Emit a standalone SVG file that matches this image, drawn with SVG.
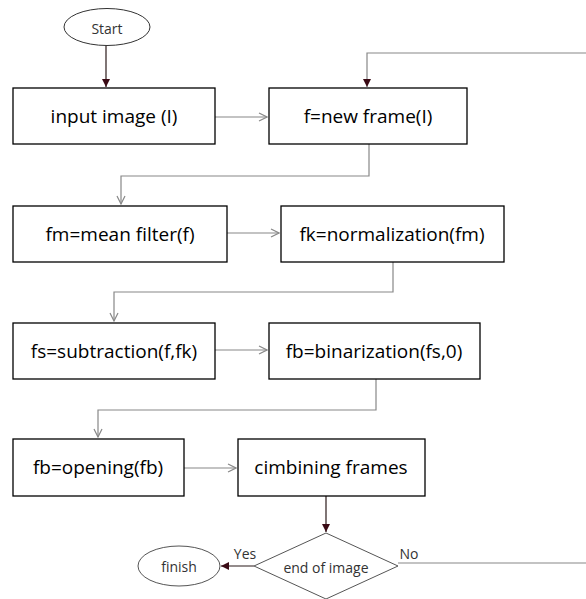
<svg xmlns="http://www.w3.org/2000/svg" width="586" height="599" viewBox="0 0 586 599">
<style>
.box{fill:#fff;stroke:#000;stroke-width:1.3}
.t{font-family:"Open Sans",Lato,sans-serif;font-size:19px;fill:#000;text-anchor:middle;dominant-baseline:central}
.s{font-family:"Open Sans",Lato,sans-serif;font-size:14px;fill:#333;text-anchor:middle;dominant-baseline:central}
.g{fill:none;stroke:#888;stroke-width:1.2}
.d{fill:none;stroke:#2a1a1a;stroke-width:1.2}
</style>
<defs>
<marker id="open" markerWidth="10" markerHeight="10" refX="9" refY="5" orient="auto" markerUnits="userSpaceOnUse">
<path d="M1,1 L9,5 L1,9" fill="none" stroke="#888" stroke-width="1.2"/>
</marker>
<marker id="fill" markerWidth="10" markerHeight="10" refX="8" refY="4" orient="auto" markerUnits="userSpaceOnUse">
<path d="M0,0 L8,4 L0,8 Z" fill="#3a0a14"/>
</marker>
</defs>
<g id="connectors">
<path class="d" d="M106,45 V87" marker-end="url(#fill)"/>
<path class="g" d="M215,117 H267" marker-end="url(#open)"/>
<path class="g" d="M586,53 H367 V87" marker-end="url(#fill)"/>
<path class="g" d="M369,144 V176 H121 V204" marker-end="url(#open)"/>
<path class="g" d="M227,233 H279" marker-end="url(#open)"/>
<path class="g" d="M393,262 V292 H114 V321" marker-end="url(#open)"/>
<path class="g" d="M215,350 H267" marker-end="url(#open)"/>
<path class="g" d="M376,379 V410 H98 V437" marker-end="url(#open)"/>
<path class="g" d="M184,468 H236" marker-end="url(#open)"/>
<path class="d" d="M326,496 V532" marker-end="url(#fill)"/>
<path class="d" d="M254,566 H221" marker-end="url(#fill)"/>
<path class="g" d="M398,563 H586"/>
</g>
<g id="start"><ellipse cx="107" cy="27" rx="43" ry="18.5" fill="#fff" stroke="#333" stroke-width="1"/><text class="s" x="107" y="28">Start</text></g>
<g id="n1"><rect class="box" x="13" y="88" width="202" height="56"/><text class="t" x="114" y="116">input image (I)</text></g>
<g id="n2"><rect class="box" x="269" y="88" width="198" height="56"/><text class="t" x="368" y="116">f=new frame(I)</text></g>
<g id="n3"><rect class="box" x="13" y="206" width="214" height="56"/><text class="t" x="120" y="234">fm=mean filter(f)</text></g>
<g id="n4"><rect class="box" x="281" y="206" width="223" height="56"/><text class="t" x="392" y="234">fk=normalization(fm)</text></g>
<g id="n5"><rect class="box" x="13" y="323" width="202" height="56"/><text class="t" x="114" y="351">fs=subtraction(f,fk)</text></g>
<g id="n6"><rect class="box" x="269" y="323" width="211" height="56"/><text class="t" x="374" y="351">fb=binarization(fs,0)</text></g>
<g id="n7"><rect class="box" x="13" y="439" width="171" height="57"/><text class="t" x="98" y="467">fb=opening(fb)</text></g>
<g id="n8"><rect class="box" x="238" y="439" width="187" height="57"/><text class="t" x="331" y="467">cimbining frames</text></g>
<g id="decision"><path d="M326,533 L398,566 L326,599 L254,566 Z" fill="#fff" stroke="#555" stroke-width="1"/><text class="s" x="326" y="567" font-size="15">end of image</text></g>
<g id="finish"><ellipse cx="179" cy="566" rx="41" ry="20" fill="#fff" stroke="#555" stroke-width="1"/><text class="s" x="179" y="566" font-size="15">finish</text></g>
<text class="s" x="245" y="553">Yes</text>
<text class="s" x="409" y="553">No</text>
</svg>
